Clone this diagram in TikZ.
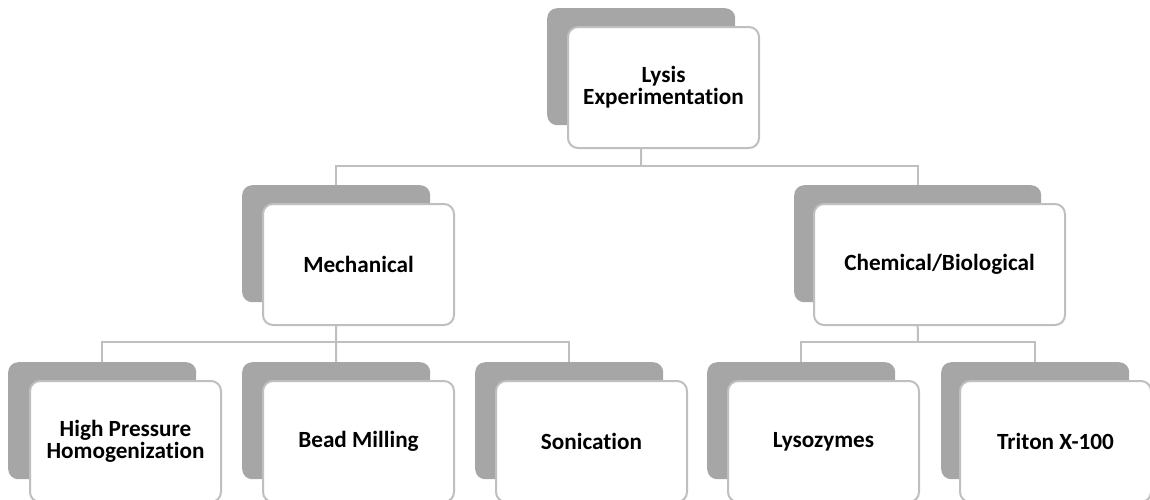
\documentclass[tikz,border=0pt]{standalone}
\usepackage{fontspec}
\setmainfont{Carlito}[Ligatures=NoCommon]
\usepackage{xcolor}
\usetikzlibrary{positioning}
\definecolor{shadegray}{HTML}{A6A6A6}
\definecolor{edgegray}{HTML}{BFBFBF}

\begin{document}
\begin{tikzpicture}[x=1pt, y=-1pt, every node/.style={font=\bfseries\fontsize{23.2}{22}\selectfont},
  back/.style={fill=shadegray, rounded corners=10pt, minimum width=188pt, minimum height=117pt, inner sep=0pt, anchor=north west},
  card/.style={draw=edgegray, line width=2pt, fill=white, rounded corners=10pt, minimum width=191pt, minimum height=121pt, align=center, inner sep=0pt, anchor=north west},
  link/.style={draw=edgegray, line width=2pt}]
\useasboundingbox (0,0) rectangle (1150,499);

% Root
\node[back] (lysisB) at (547,8) {};
\node[card] (lysis) at ([shift={(20,18)}]lysisB.north west) {Lysis\\Experimentation};

% Methods
\node[back] (mechB) at (242,185) {};
\node[card] (mech) at ([shift={(20,18)}]mechB.north west) {Mechanical};
\node[back, minimum width=247pt] (chemB) at (794,185) {};
\node[card, minimum width=251pt] (chem) at ([shift={(19,18)}]chemB.north west) {Chemical/Biological};

% Techniques
\node[back] (highB) at (8,362) {};
\node[card] (high) at ([shift={(21,18)}]highB.north west) {High Pressure\\Homogenization};
\node[back] (beadB) at (242,362) {};
\node[card] (bead) at ([shift={(20,18)}]beadB.north west) {Bead Milling};
\node[back] (sonB) at (475,362) {};
\node[card] (son) at ([shift={(20,18)}]sonB.north west) {Sonication};
\node[back] (lysoB) at (707,362) {};
\node[card] (lyso) at ([shift={(20,18)}]lysoB.north west) {Lysozymes};
\node[back] (tritonB) at (941,362) {};
\node[card] (triton) at ([shift={(18,18)}]tritonB.north west) {Triton X-100};

% Connections
\coordinate (bus1) at (641,166);
\coordinate (bus2) at (336,342);
\coordinate (bus3) at (918,342);
\draw[link] (lysisB.south |- lysis.south) -- (bus1);
\draw[link] (mechB.north) |- (bus1) -| (chemB.north);
\draw[link] (mechB.south |- mech.south) -- (bus2);
\draw[link] (highB.north) |- (bus2) -| (sonB.north);
\draw[link] (beadB.north) -- (bus2);
\draw[link] (chemB.south |- chem.south) -- (bus3);
\draw[link] (lysoB.north) |- (bus3) -| (tritonB.north);
\end{tikzpicture}
\end{document}
